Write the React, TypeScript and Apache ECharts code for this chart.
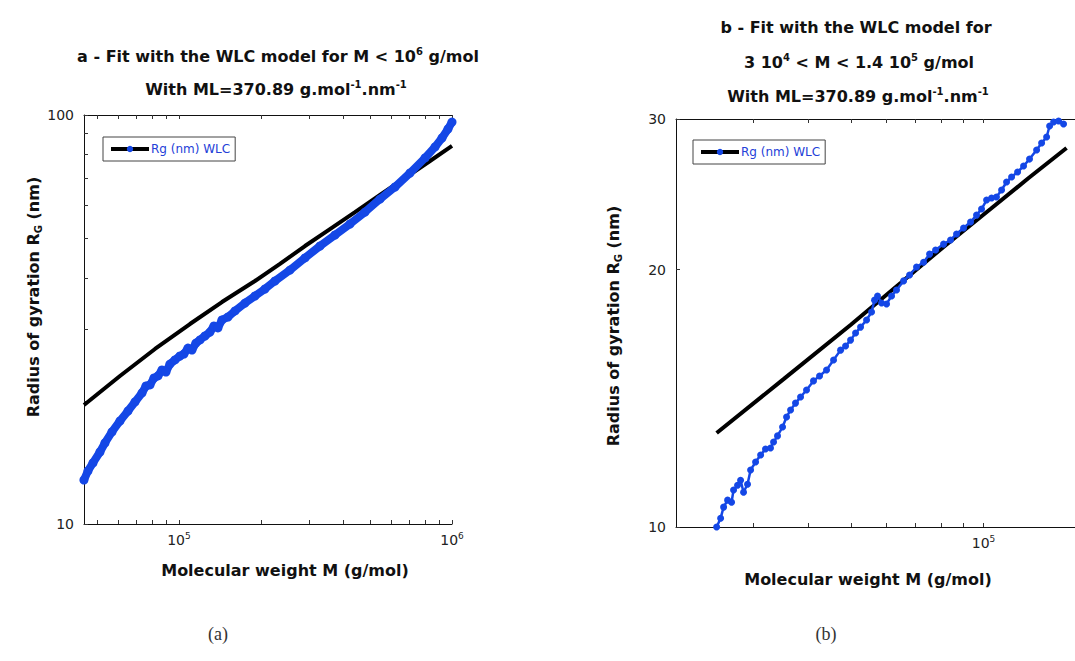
import React, { useEffect, useRef } from 'react';
import * as echarts from 'echarts';

const BLUE = '#1447e6';
const FIT_NAME = 'Rg (nm) WLC';

// ---------- Chart (a) ----------
const aFitM = [44900, 60800, 81700, 109700, 143700, 189800, 234400, 289400, 357300, 441300, 544800, 672600, 830700, 1000000];
const aFitRg = [19.54, 23.01, 26.79, 30.83, 34.89, 39.28, 43.23, 47.83, 52.62, 57.91, 63.74, 70.15, 77.19, 84.0];
const aDataM = [44870, 46420, 48420, 51360, 53570, 56830, 60810, 65060, 69010, 73210, 75710, 78310, 80990, 83780, 86640, 89620, 92680, 96670, 100850, 104300, 107900, 111600, 115400, 119400, 124500, 129900, 134300, 138900, 143700, 151200, 160400, 174500, 189800, 206500, 224700, 255000, 289400, 328500, 372800, 423000, 480100, 544800, 618400, 701800, 796300, 866400, 919100, 966700, 1000000];
const aDataRg = [12.81, 13.48, 14.1, 15.0, 15.78, 16.79, 17.86, 18.89, 19.88, 20.91, 21.75, 21.88, 22.75, 23.01, 23.8, 23.53, 24.61, 25.18, 25.75, 26.04, 26.93, 26.63, 27.7, 28.18, 28.82, 29.47, 30.49, 30.15, 31.54, 32.07, 33.18, 34.69, 36.1, 37.55, 39.28, 41.78, 44.72, 47.83, 50.89, 54.14, 57.91, 62.31, 66.68, 72.15, 78.51, 83.53, 87.86, 92.43, 96.1];
const aXRange = [44900, 1000000];
const aYRange = [10, 100];
const aXTicks = [50000, 60000, 70000, 80000, 90000, 100000, 200000, 300000, 400000, 500000, 600000, 700000, 800000, 900000, 1000000];
const aXLabels = [100000, 1000000];
const aYTicks = [10, 20, 30, 40, 50, 60, 70, 80, 90, 100];
const aYLabels = [10, 100];

// ---------- Chart (b) ----------
const bFitM = [24740, 35120, 49850, 64770, 81120, 103700, 126600, 154400];
const bFitRg = [12.88, 14.89, 17.23, 19.29, 21.26, 23.54, 25.59, 27.75];
const bDataM = [24740, 25260, 25660, 26200, 26750, 27030, 27600, 28040, 28480, 29080, 29550, 30330, 31140, 31950, 32800, 33320, 34020, 34930, 35670, 36420, 37380, 38380, 39600, 41070, 42390, 43970, 45610, 47320, 48580, 49860, 51180, 52540, 54210, 55650, 56530, 57420, 58640, 60190, 61790, 63420, 65810, 67900, 70420, 73060, 75400, 77800, 81120, 84140, 86820, 90060, 93430, 96400, 98960, 101600, 104300, 107000, 109900, 112800, 115800, 119500, 123300, 127200, 132000, 135500, 139100, 141300, 144300, 148100, 152000];
const bDataRg = [10.0, 10.24, 10.55, 10.75, 10.69, 11.05, 11.19, 11.34, 10.98, 11.22, 11.66, 11.91, 12.14, 12.34, 12.37, 12.57, 12.78, 13.09, 13.45, 13.7, 13.96, 14.19, 14.46, 14.82, 15.02, 15.26, 15.68, 16.1, 16.28, 16.54, 16.86, 17.13, 17.46, 17.84, 18.42, 18.63, 18.28, 18.23, 18.63, 18.93, 19.4, 19.71, 20.14, 20.4, 20.85, 21.08, 21.42, 21.66, 22.01, 22.37, 22.73, 23.16, 23.54, 24.12, 24.25, 24.32, 24.78, 25.32, 25.66, 26.01, 26.43, 26.93, 27.6, 28.12, 28.58, 29.44, 29.76, 29.84, 29.6];
const bXRange = [20000, 200000];
const bYRange = [10, 30];
const bXTicks = [30000, 40000, 50000, 60000, 70000, 80000, 90000, 100000, 200000];
const bXLabels = [100000];
const bYTicks = [10, 20, 30];
const bYLabels = [10, 20, 30];

const lg = Math.log10;
const pairs = (xs: number[], ys: number[]) => xs.map((x, i) => [lg(x), lg(ys[i])]);

const SANS = 'DejaVu Sans';
const TICK_COLOR = '#222';

function xAxis(gridIndex: number, range: number[], ticks: number[], labels: number[], position: string, showLabels: boolean) {
  return {
    type: 'value',
    gridIndex,
    position,
    min: lg(range[0]),
    max: lg(range[1]),
    axisLine: { show: true, onZero: false, lineStyle: { color: '#111', width: 1 } },
    axisTick: { show: true, inside: true, length: 4, customValues: ticks.map(lg), lineStyle: { color: '#333' } },
    axisLabel: {
      show: showLabels,
      customValues: labels.map(lg),
      margin: 7,
      formatter: (v: number) => `{b|10}{s|${Math.round(v)}}`,
      rich: {
        b: { fontSize: 14, fontFamily: SANS, color: TICK_COLOR },
        s: { fontSize: 9, fontFamily: SANS, color: TICK_COLOR, padding: [0, 0, 9, 0] },
      },
    },
    splitLine: { show: false },
  };
}

function yAxis(gridIndex: number, range: number[], ticks: number[], labels: number[]) {
  return {
    type: 'value',
    gridIndex,
    position: 'left',
    min: lg(range[0]),
    max: lg(range[1]),
    axisLine: { show: true, onZero: false, lineStyle: { color: '#111', width: 1 } },
    axisTick: { show: true, inside: true, length: 4, customValues: ticks.map(lg), lineStyle: { color: '#333' } },
    axisLabel: {
      show: true,
      customValues: labels.map(lg),
      margin: 10,
      fontSize: 14,
      fontFamily: SANS,
      color: TICK_COLOR,
      formatter: (v: number) => String(Math.round(Math.pow(10, v))),
    },
    splitLine: { show: false },
  };
}

const titleRich = {
  sup: { fontSize: 10, fontFamily: SANS, fontWeight: 'bold', fill: '#111', padding: [0, 0, 10, 0] },
};

function titleText(text: string, x: number, y: number) {
  return {
    type: 'text',
    x,
    y,
    style: {
      text,
      align: 'center',
      verticalAlign: 'middle',
      fontFamily: SANS,
      fontWeight: 'bold',
      fontSize: 16,
      fill: '#111',
      rich: titleRich,
    },
  };
}

function yTitle(x: number, y: number) {
  return {
    type: 'text',
    x,
    y,
    rotation: Math.PI / 2,
    style: {
      text: 'Radius of gyration R{sub|G} (nm)',
      align: 'center',
      verticalAlign: 'middle',
      fontFamily: SANS,
      fontWeight: 'bold',
      fontSize: 16,
      fill: '#111',
      rich: {
        sub: { fontSize: 10, fontFamily: SANS, fontWeight: 'bold', fill: '#111', padding: [10, 0, 0, 0] },
      },
    },
  };
}

function xTitle(x: number, y: number) {
  return {
    type: 'text',
    x,
    y,
    style: { text: 'Molecular weight M (g/mol)', align: 'center', verticalAlign: 'middle', fontFamily: SANS, fontWeight: 'bold', fontSize: 16, fill: '#111' },
  };
}

function legend(left: number, top: number) {
  return {
    data: [FIT_NAME],
    left,
    top,
    itemWidth: 38,
    itemHeight: 8,
    itemGap: 4,
    padding: [6, 5, 6, 6],
    borderColor: '#444',
    borderWidth: 1,
    backgroundColor: '#fff',
    lineStyle: { width: 4 },
    textStyle: { color: '#2440d8', fontFamily: SANS, fontSize: 12, padding: [0, 0, 0, -3] },
    selectedMode: false,
  };
}

export default function App() {
  const ref = useRef<HTMLDivElement>(null);
  useEffect(() => {
    if (!ref.current) return;
    const chart = echarts.init(ref.current, undefined, { renderer: 'svg' });
    chart.setOption({
      animation: false,
      backgroundColor: '#fff',
      grid: [
        { left: 84, top: 115, width: 368, height: 409 },
        { left: 676, top: 119, width: 440, height: 408 },
      ],
      xAxis: [
        xAxis(0, aXRange, aXTicks, aXLabels, 'bottom', true),
        xAxis(0, aXRange, aXTicks, aXLabels, 'top', false),
        xAxis(1, bXRange, bXTicks, bXLabels, 'bottom', true),
        xAxis(1, bXRange, bXTicks, bXLabels, 'top', false),
      ],
      yAxis: [yAxis(0, aYRange, aYTicks, aYLabels), yAxis(1, bYRange, bYTicks, bYLabels)],
      legend: [legend(103, 137), legend(693, 140)],
      series: [
        {
          type: 'line',
          name: FIT_NAME,
          xAxisIndex: 0,
          yAxisIndex: 0,
          data: pairs(aFitM, aFitRg),
          symbol: 'circle',
          showSymbol: false,
          lineStyle: { color: '#000', width: 4 },
          itemStyle: { color: BLUE },
          z: 2,
        },
        {
          type: 'line',
          name: 'Rg (nm) data a',
          xAxisIndex: 0,
          yAxisIndex: 0,
          data: pairs(aDataM, aDataRg),
          symbol: 'circle',
          symbolSize: 9,
          lineStyle: { color: BLUE, width: 8 },
          itemStyle: { color: BLUE },
          z: 3,
        },
        {
          type: 'line',
          name: FIT_NAME,
          xAxisIndex: 2,
          yAxisIndex: 1,
          data: pairs(bFitM, bFitRg),
          symbol: 'circle',
          showSymbol: false,
          lineStyle: { color: '#000', width: 4 },
          itemStyle: { color: BLUE },
          z: 2,
        },
        {
          type: 'line',
          name: 'Rg (nm) data b',
          xAxisIndex: 2,
          yAxisIndex: 1,
          data: pairs(bDataM, bDataRg),
          symbol: 'circle',
          symbolSize: 7,
          lineStyle: { color: BLUE, width: 2.5 },
          itemStyle: { color: BLUE },
          z: 3,
        },
      ],
      graphic: [
        titleText('a - Fit with the WLC model for M < 10{sup|6} g/mol', 278, 56),
        titleText('With ML=370.89 g.mol{sup|-1}.nm{sup|-1}', 276, 89),
        titleText('b - Fit with the WLC model for', 856, 27),
        titleText('3 10{sup|4} < M < 1.4 10{sup|5} g/mol', 859, 62),
        titleText('With ML=370.89 g.mol{sup|-1}.nm{sup|-1}', 858, 96),
        yTitle(33, 297),
        yTitle(613, 326),
        xTitle(285, 570),
        xTitle(868, 579),
        {
          type: 'text', x: 218, y: 634,
          style: { text: '(a)', align: 'center', verticalAlign: 'middle', fontFamily: 'Liberation Serif', fontSize: 18, fill: '#333' },
        },
        {
          type: 'text', x: 826, y: 634,
          style: { text: '(b)', align: 'center', verticalAlign: 'middle', fontFamily: 'Liberation Serif', fontSize: 18, fill: '#333' },
        },
      ],
    });
    return () => chart.dispose();
  }, []);
  return <div ref={ref} style={{ position: 'fixed', left: 0, top: 0, width: 1200, height: 661 }} />;
}
